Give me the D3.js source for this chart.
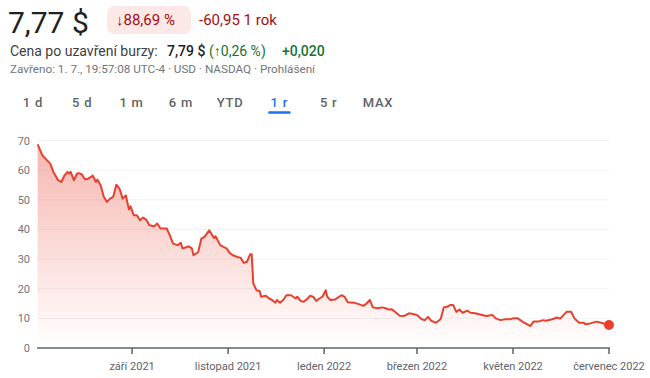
<!DOCTYPE html>
<html>
<head>
<meta charset="utf-8">
<script src="https://cdn.jsdelivr.net/npm/d3@7"></script>
<style>
  body { margin: 0; background: #fff; }
  svg { display: block; font-family: Roboto, "Noto Sans", sans-serif; }
</style>
</head>
<body>
<div id="chart"></div>
<script>
// price history, 1 year
var dates = [
  "2021-07-03","2021-07-06","2021-07-09","2021-07-11","2021-07-13","2021-07-16","2021-07-18","2021-07-20",
  "2021-07-22","2021-07-23","2021-07-24","2021-07-26","2021-07-28","2021-07-29","2021-07-31","2021-08-02",
  "2021-08-04","2021-08-06","2021-08-07","2021-08-09","2021-08-10","2021-08-12","2021-08-14","2021-08-16",
  "2021-08-18","2021-08-20","2021-08-22","2021-08-24","2021-08-26","2021-08-28","2021-08-30","2021-08-31",
  "2021-09-02","2021-09-04","2021-09-06","2021-09-08","2021-09-10","2021-09-12","2021-09-15","2021-09-17",
  "2021-09-19","2021-09-23","2021-09-25","2021-09-27","2021-09-30","2021-10-02","2021-10-03","2021-10-05",
  "2021-10-07","2021-10-09","2021-10-10","2021-10-13","2021-10-15","2021-10-17","2021-10-20","2021-10-23",
  "2021-10-24","2021-10-27","2021-10-29","2021-10-31","2021-11-02","2021-11-04","2021-11-07","2021-11-09",
  "2021-11-11","2021-11-13","2021-11-15","2021-11-16","2021-11-17","2021-11-19","2021-11-21","2021-11-22",
  "2021-11-25","2021-11-27","2021-11-29","2021-12-01","2021-12-02","2021-12-04","2021-12-06","2021-12-08",
  "2021-12-11","2021-12-14","2021-12-15","2021-12-17","2021-12-19","2021-12-21","2021-12-23","2021-12-25",
  "2021-12-27","2021-12-29","2021-12-31","2022-01-02","2022-01-03","2022-01-05","2022-01-08","2022-01-12",
  "2022-01-14","2022-01-16","2022-01-20","2022-01-23","2022-01-26","2022-01-28","2022-01-30","2022-02-01",
  "2022-02-04","2022-02-07","2022-02-09","2022-02-11","2022-02-13","2022-02-15","2022-02-18","2022-02-21",
  "2022-02-24","2022-02-27","2022-03-01","2022-03-04","2022-03-06","2022-03-08","2022-03-10","2022-03-13",
  "2022-03-16","2022-03-18","2022-03-20","2022-03-22","2022-03-24","2022-03-26","2022-03-28","2022-03-30",
  "2022-04-02","2022-04-04","2022-04-07","2022-04-10","2022-04-14","2022-04-18","2022-04-20","2022-04-23",
  "2022-04-26","2022-04-29","2022-05-01","2022-05-04","2022-05-07","2022-05-09","2022-05-12","2022-05-14",
  "2022-05-17","2022-05-20","2022-05-22","2022-05-26","2022-05-29","2022-05-31","2022-06-04","2022-06-07",
  "2022-06-09","2022-06-12","2022-06-15","2022-06-16","2022-06-19","2022-06-23","2022-06-26","2022-06-29",
  "2022-07-01"
]

var prices = [
  68.7, 65.0, 63.3, 62.2, 59.4, 56.6, 56.0, 58.2,
  59.4, 58.8, 59.4, 56.6, 58.8, 59.0, 58.6, 56.9,
  57.1, 57.7, 58.2, 56.0, 56.8, 54.9, 51.0, 49.3,
  50.4, 51.0, 55.1, 53.8, 50.4, 51.5, 46.7, 47.8,
  44.8, 44.8, 43.1, 44.0, 43.3, 41.4, 41.1, 42.0,
  40.3, 40.3, 38.0, 35.2, 34.7, 35.5, 33.6, 33.9,
  34.3, 33.6, 31.3, 32.4, 36.9, 37.5, 39.7, 37.1,
  37.7, 34.7, 34.1, 33.6, 32.1, 31.3, 30.7, 30.4,
  28.7, 29.1, 31.6, 31.6, 21.8, 19.5, 19.2, 17.3,
  17.6, 16.7, 16.2, 15.3, 16.2, 15.3, 16.2, 17.8,
  17.8, 16.7, 17.3, 15.9, 15.6, 16.4, 17.6, 17.3,
  15.9, 16.7, 17.3, 19.5, 17.3, 16.2, 16.4, 17.8,
  17.3, 15.4, 15.3, 14.8, 14.2, 15.0, 16.2, 13.7,
  13.4, 13.7, 13.4, 13.0, 13.1, 12.2, 10.9, 10.8,
  11.7, 11.4, 11.1, 9.7, 9.4, 10.5, 9.2, 8.5,
  9.7, 13.7, 13.9, 14.5, 14.5, 12.2, 13.0, 11.9,
  12.6, 11.9, 11.7, 11.3, 10.8, 11.1, 10.0, 9.4,
  9.7, 9.7, 10.0, 10.0, 8.9, 8.3, 7.4, 8.9,
  8.9, 9.4, 9.2, 9.7, 10.3, 9.9, 12.2, 12.2,
  10.0, 8.5, 8.5, 8.0, 8.3, 8.9, 8.5, 8.0,
  7.77
]

var yTicks = [0, 10, 20, 30, 40, 50, 60, 70]
var xTickDates = ["2021-09-01", "2021-11-01", "2022-01-01", "2022-03-01", "2022-05-01", "2022-07-01"]
var xTickLabels = ["září 2021", "listopad 2021", "leden 2022", "březen 2022", "květen 2022", "červenec 2022"]
var ranges = ["1 d", "5 d", "1 m", "6 m", "YTD", "1 r", "5 r", "MAX"]
var activeRange = "1 r"

var width = 650, height = 378
var lineColor = "#e8402f"
var parse = d3.timeParse("%Y-%m-%d")

var data = dates.map(function(d, i) { return { date: parse(d), price: prices[i] } })

var svg = d3.select("#chart").append("svg")
    .attr("width", width)
    .attr("height", height)

// --- header ---
var head = svg.append("g")

head.append("text")
    .attr("x", 8).attr("y", 33)
    .attr("font-size", 30)
    .attr("fill", "#202124")
    .text("7,77 $")

head.append("rect")
    .attr("x", 107).attr("y", 6)
    .attr("width", 84).attr("height", 28)
    .attr("rx", 7)
    .attr("fill", "#fce8e6")

head.append("text")
    .attr("x", 116).attr("y", 25)
    .attr("font-size", 15)
    .attr("fill", "#a50e0e")
    .text("↓88,69 %")

head.append("text")
    .attr("x", 199).attr("y", 25)
    .attr("font-size", 15)
    .attr("fill", "#a50e0e")
    .text("-60,95 1 rok")

head.append("text")
    .attr("x", 10).attr("y", 56)
    .attr("font-size", 14)
    .attr("fill", "#3c4043")
    .text("Cena po uzavření burzy:")

head.append("text")
    .attr("x", 167).attr("y", 56)
    .attr("font-size", 14)
    .attr("font-weight", 500)
    .attr("fill", "#202124")
    .text("7,79 $")

head.append("text")
    .attr("x", 209).attr("y", 56)
    .attr("font-size", 14)
    .attr("fill", "#137333")
    .text("(↑0,26 %)")

head.append("text")
    .attr("x", 282).attr("y", 56)
    .attr("font-size", 14)
    .attr("font-weight", 500)
    .attr("fill", "#137333")
    .text("+0,020")

head.append("text")
    .attr("x", 10).attr("y", 73)
    .attr("font-size", 11.7)
    .attr("fill", "#70757a")
    .text("Zavřeno: 1. 7., 19:57:08 UTC-4 · USD · NASDAQ · Prohlášení")

// range selector
var tabX = d3.scalePoint().domain(ranges).range([33, 378])

head.selectAll(".tab")
    .data(ranges)
    .join("text")
    .attr("class", "tab")
    .attr("x", function(d) { return tabX(d) })
    .attr("y", 107)
    .attr("text-anchor", "middle")
    .attr("font-size", 13)
    .attr("font-weight", 500)
    .attr("letter-spacing", 0.8)
    .attr("fill", function(d) { return d === activeRange ? "#1a73e8" : "#5f6368" })
    .text(function(d) { return d })

head.append("line")
    .attr("x1", tabX(activeRange) - 10).attr("x2", tabX(activeRange) + 10)
    .attr("y1", 112.5).attr("y2", 112.5)
    .attr("stroke", "#1a73e8")
    .attr("stroke-width", 2.5)
    .attr("stroke-linecap", "round")

// --- chart ---
var x = d3.scaleTime()
    .domain([parse("2021-07-01"), parse("2022-07-01")])
    .range([34.5, 609])

var y = d3.scaleLinear()
    .domain([0, 70])
    .range([348, 140.5])

var x0 = 37, x1 = 609

svg.append("g")
    .selectAll("line")
    .data(yTicks.slice(1))
    .join("line")
    .attr("x1", x0).attr("x2", x1)
    .attr("y1", function(d) { return y(d) })
    .attr("y2", function(d) { return y(d) })
    .attr("stroke", "#f1f3f4")
    .attr("stroke-width", 1)

svg.append("g")
    .selectAll("text")
    .data(yTicks)
    .join("text")
    .attr("x", 30)
    .attr("y", function(d) { return y(d) + 4 })
    .attr("text-anchor", "end")
    .attr("font-size", 11)
    .attr("fill", "#70757a")
    .text(function(d) { return d })

var grad = svg.append("defs").append("linearGradient")
    .attr("id", "fade")
    .attr("x1", 0).attr("x2", 0).attr("y1", 0).attr("y2", 1)
grad.append("stop").attr("offset", "0%").attr("stop-color", lineColor).attr("stop-opacity", 0.38)
grad.append("stop").attr("offset", "100%").attr("stop-color", lineColor).attr("stop-opacity", 0)

var area = d3.area()
    .x(function(d) { return x(d.date) })
    .y0(y(0))
    .y1(function(d) { return y(d.price) })

var line = d3.line()
    .x(function(d) { return x(d.date) })
    .y(function(d) { return y(d.price) })

svg.append("path")
    .datum(data)
    .attr("d", area)
    .attr("fill", "url(#fade)")

svg.append("path")
    .datum(data)
    .attr("d", line)
    .attr("fill", "none")
    .attr("stroke", lineColor)
    .attr("stroke-width", 2)
    .attr("stroke-linejoin", "round")

// x axis
var axis = svg.append("g")

axis.append("line")
    .attr("x1", x0).attr("x2", x1 + 1)
    .attr("y1", 348).attr("y2", 348)
    .attr("stroke", "#5f6368")
    .attr("stroke-width", 1.5)

axis.selectAll(".tick")
    .data(xTickDates)
    .join("line")
    .attr("class", "tick")
    .attr("x1", function(d) { return x(parse(d)) })
    .attr("x2", function(d) { return x(parse(d)) })
    .attr("y1", 348).attr("y2", 354)
    .attr("stroke", "#5f6368")
    .attr("stroke-width", 1.5)

axis.selectAll(".lab")
    .data(xTickDates)
    .join("text")
    .attr("class", "lab")
    .attr("x", function(d) { return x(parse(d)) })
    .attr("y", 370)
    .attr("text-anchor", "middle")
    .attr("font-size", 11)
    .attr("fill", "#5f6368")
    .text(function(d, i) { return xTickLabels[i] })

var last = data[data.length - 1]
svg.append("circle")
    .attr("cx", x(last.date))
    .attr("cy", y(last.price))
    .attr("r", 5)
    .attr("fill", lineColor)
</script>
</body>
</html>
